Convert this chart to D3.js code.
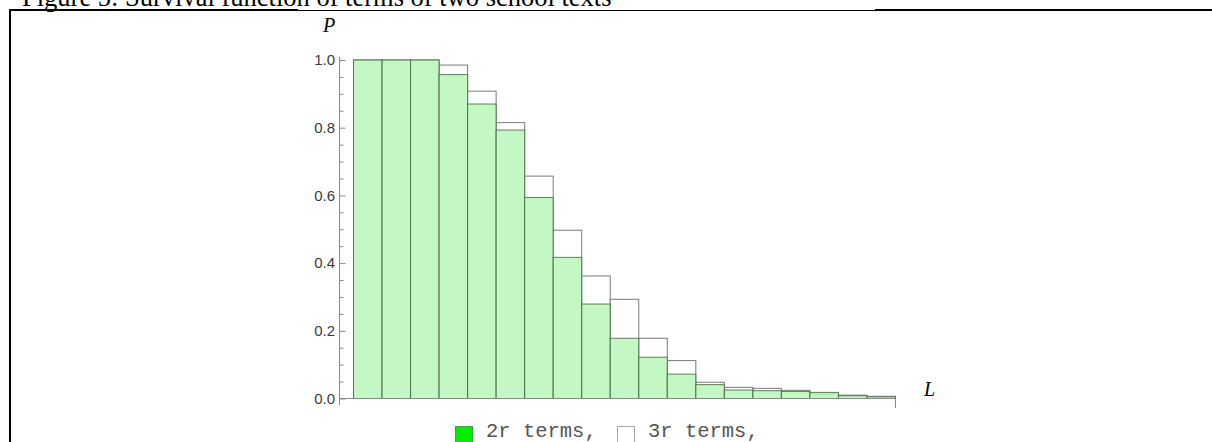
<!DOCTYPE html>
<html>
<head>
<meta charset="utf-8">
<script src="https://cdn.jsdelivr.net/npm/d3@7"></script>
<style>
  html, body { margin: 0; padding: 0; background: #fff; overflow: hidden; }
  svg { display: block; }
</style>
</head>
<body>
<svg id="chart" width="1212" height="442"></svg>
<script>
// Term lengths (bins) and survival values for the two texts
const lengths = [1, 2, 3, 4, 5, 6, 7, 8, 9, 10, 11, 12, 13, 14, 15, 16, 17, 18, 19];
const terms2r = [1.0, 1.0, 1.0, 0.957, 0.870, 0.793, 0.594, 0.417, 0.279, 0.178,
                 0.122, 0.072, 0.041, 0.025, 0.023, 0.021, 0.018, 0.008, 0.005];
const terms3r = [1.0, 1.0, 1.0, 0.985, 0.908, 0.815, 0.657, 0.497, 0.362, 0.293,
                 0.178, 0.112, 0.048, 0.033, 0.030, 0.024, 0.013, 0.010, 0.0065];
const yMajorTicks = [0, 0.2, 0.4, 0.6, 0.8, 1.0];
const yMinorTicks = [0.05, 0.1, 0.15, 0.25, 0.3, 0.35, 0.45, 0.5, 0.55,
                     0.65, 0.7, 0.75, 0.85, 0.9, 0.95];
const legendItems = ["2r terms,", "3r terms,"];
const titleText = "Figure 5: Survival function of terms of two school texts";

const svg = d3.select("#chart");

// Caption and the surrounding table frame
svg.append("text")
  .attr("x", 22).attr("y", 6)
  .attr("font-family", "'Liberation Serif', 'Times New Roman', serif")
  .attr("font-size", 26.5)
  .attr("fill", "#000")
  .text(titleText);

const frame = svg.append("g").attr("stroke", "#000").attr("fill", "none");
frame.append("line").attr("x1", 9).attr("x2", 298).attr("y1", 10).attr("y2", 10).attr("stroke-width", 2);
frame.append("line").attr("x1", 298).attr("x2", 875).attr("y1", 10.5).attr("y2", 10.5).attr("stroke-width", 1);
frame.append("line").attr("x1", 875).attr("x2", 1212).attr("y1", 10).attr("y2", 10).attr("stroke-width", 2);
frame.append("line").attr("x1", 10).attr("x2", 10).attr("y1", 9).attr("y2", 442).attr("stroke-width", 2);

// Scales
const x = d3.scaleBand().domain(lengths).range([353, 895]).paddingInner(0).paddingOuter(0);
const y = d3.scaleLinear().domain([0, 1]).range([398.5, 60]);
const axisX = 339.5;

const plot = svg.append("g");

// 3r bars (white, behind)
plot.append("g").selectAll("rect")
  .data(terms3r)
  .join("rect")
  .attr("x", (d, i) => x(lengths[i]) + 0.5)
  .attr("y", d => y(d))
  .attr("width", x.bandwidth())
  .attr("height", d => y(0) - y(d))
  .attr("fill", "#fff")
  .attr("stroke", "#7a7a7a")
  .attr("stroke-width", 1);

// 2r bars (light green, in front)
plot.append("g").selectAll("rect")
  .data(terms2r)
  .join("rect")
  .attr("x", (d, i) => x(lengths[i]) + 0.5)
  .attr("y", d => y(d))
  .attr("width", x.bandwidth())
  .attr("height", d => y(0) - y(d))
  .attr("fill", "#b8f6b8")
  .attr("fill-opacity", 0.85)
  .attr("stroke", "#4a684a")
  .attr("stroke-opacity", 0.85)
  .attr("stroke-width", 1);

// Y axis: major ticks with labels, ticks pointing inward
const yAxis = d3.axisLeft(y)
  .tickValues(yMajorTicks)
  .tickFormat(d3.format(".1f"))
  .tickSizeInner(-6)
  .tickSizeOuter(0)
  .tickPadding(4.5);

const gy = svg.append("g")
  .attr("transform", `translate(${axisX},0)`)
  .call(yAxis);
gy.select(".domain").remove();
gy.selectAll(".tick line").attr("stroke", "#8a8a8a");
gy.selectAll(".tick text")
  .attr("font-family", "'Liberation Sans', Arial, sans-serif")
  .attr("font-size", 15)
  .attr("fill", "#3a3a3a");

// Minor ticks
const yMinor = d3.axisLeft(y).tickValues(yMinorTicks).tickFormat("").tickSizeInner(-4).tickSizeOuter(0);
const gyMinor = svg.append("g").attr("transform", `translate(${axisX},0)`).call(yMinor);
gyMinor.select(".domain").remove();
gyMinor.selectAll(".tick line").attr("stroke", "#8a8a8a");

// Axis lines
const axes = svg.append("g").attr("stroke", "#8a8a8a").attr("stroke-width", 1);
axes.append("line")
  .attr("x1", axisX).attr("x2", axisX)
  .attr("y1", y(1) - 3).attr("y2", y(0) + 6.5);
axes.append("line")
  .attr("x1", axisX).attr("x2", x.range()[1] + 0.5)
  .attr("y1", y(0)).attr("y2", y(0));
axes.append("line")
  .attr("x1", x.range()[1] + 0.5).attr("x2", x.range()[1] + 0.5)
  .attr("y1", y(0)).attr("y2", y(0) + 9.5);

// Axis names
svg.append("text")
  .attr("x", 323).attr("y", 31.5)
  .attr("font-family", "'Liberation Serif', 'Times New Roman', serif")
  .attr("font-style", "italic")
  .attr("font-size", 20)
  .attr("fill", "#000")
  .text("P");
svg.append("text")
  .attr("x", 924).attr("y", 396)
  .attr("font-family", "'Liberation Serif', 'Times New Roman', serif")
  .attr("font-style", "italic")
  .attr("font-size", 20)
  .attr("fill", "#000")
  .text("L");

// Legend
const legendX = [455, 617];
const legendFill = ["#00ee00", "#fff"];
const legendStroke = ["#4a9a4a", "#aaaaaa"];
const legend = svg.append("g").selectAll("g")
  .data(legendItems)
  .join("g")
  .attr("transform", (d, i) => `translate(${legendX[i]},0)`);
legend.append("rect")
  .attr("x", 0.5).attr("y", 426.5)
  .attr("width", 17).attr("height", 17)
  .attr("fill", (d, i) => legendFill[i])
  .attr("stroke", (d, i) => legendStroke[i]);
legend.append("text")
  .attr("x", 31).attr("y", 436.5)
  .attr("font-family", "'Liberation Mono', 'Courier New', monospace")
  .attr("font-size", 20.5)
  .attr("fill", "#555")
  .text(d => d);
</script>
</body>
</html>
